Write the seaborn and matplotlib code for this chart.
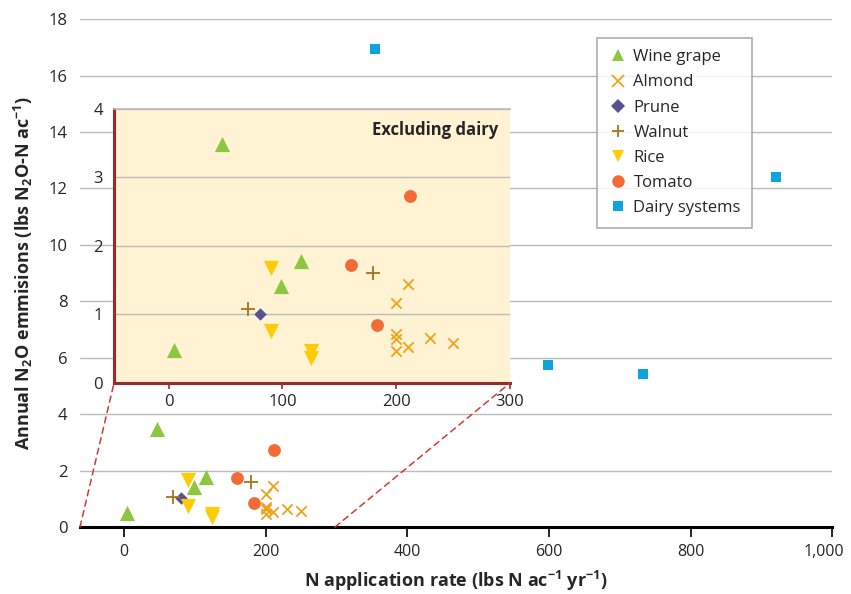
import pandas as pd
import matplotlib.pyplot as plt
import seaborn as sns
from matplotlib.patches import ConnectionPatch
from matplotlib.ticker import FuncFormatter
from matplotlib.transforms import ScaledTranslation

# Data
wine_x = [47, 5, 99, 116]
wine_y = [3.49, 0.48, 1.42, 1.78]
almond_x = [210, 200, 200, 200, 200, 210, 230, 250]
almond_y = [1.44, 1.17, 0.71, 0.64, 0.47, 0.53, 0.65, 0.58]
prune_x = [80]
prune_y = [1.01]
walnut_x = [70, 180]
walnut_y = [1.08, 1.60]
rice_x = [90, 90, 125, 125]
rice_y = [1.68, 0.76, 0.47, 0.36]
tomato_x = [160, 212, 183]
tomato_y = [1.72, 2.73, 0.84]
dairy_x = [355, 598, 733, 920]
dairy_y = [16.94, 5.74, 5.41, 12.4]

CROPS = ['Wine grape', 'Almond', 'Prune', 'Walnut', 'Rice', 'Tomato', 'Dairy systems']
COLORS = {
    'Wine grape': '#8DC63F',
    'Almond': '#EFA21A',
    'Prune': '#56528F',
    'Walnut': '#A8711E',
    'Rice': '#FFCB05',
    'Tomato': '#F26A36',
    'Dairy systems': '#0FA3DD',
}
MARKERS = {
    'Wine grape': '^',
    'Almond': 'x',
    'Prune': 'D',
    'Walnut': '+',
    'Rice': 'v',
    'Tomato': 'o',
    'Dairy systems': 's',
}
SIZES = {
    'Wine grape': 120,
    'Almond': 55,
    'Prune': 40,
    'Walnut': 110,
    'Rice': 120,
    'Tomato': 85,
    'Dairy systems': 55,
}

rows = []
for crop, xs, ys in zip(CROPS,
                        [wine_x, almond_x, prune_x, walnut_x, rice_x, tomato_x, dairy_x],
                        [wine_y, almond_y, prune_y, walnut_y, rice_y, tomato_y, dairy_y]):
    for x, y in zip(xs, ys):
        rows.append({'Crop': crop, 'N': x, 'N2O': y})
df = pd.DataFrame(rows)

sns.set_theme(style="white")
plt.rcParams['font.family'] = ['Open Sans', 'DejaVu Sans']
plt.rcParams['mathtext.default'] = 'regular'

fig = plt.figure(figsize=(8.51, 5.94), dpi=100)
ax = fig.add_axes([0.094, 0.1128, 0.884, 0.855])


def draw_points(a, data):
    for crop in CROPS:
        sub = data[data['Crop'] == crop]
        if sub.empty:
            continue
        lw = 1.3 if crop in ('Almond', 'Walnut') else 0
        sns.scatterplot(data=sub, x='N', y='N2O', ax=a, color=COLORS[crop],
                        marker=MARKERS[crop], s=SIZES[crop], linewidth=lw,
                        edgecolor=COLORS[crop] if lw == 0 else None,
                        label=crop, zorder=3, legend=False)


draw_points(ax, df)
ax.set_xlim(-62, 1000)
ax.set_ylim(0, 18)
ax.set_yticks(range(0, 19, 2))
ax.set_xticks(range(0, 1001, 200))
ax.xaxis.set_major_formatter(FuncFormatter(lambda v, p: f"{int(v):,}"))
ax.grid(axis='y', color='#BBBBBB', linewidth=1)
ax.set_axisbelow(True)
for s in ['top', 'right', 'left']:
    ax.spines[s].set_visible(False)
ax.spines['bottom'].set_color('black')
ax.spines['bottom'].set_linewidth(2.2)
ax.tick_params(axis='x', bottom=True, direction='out', length=7, width=1.2,
               color='black', labelsize=11.5, pad=5)
ax.tick_params(axis='y', left=False, labelsize=12, pad=3)
ax.set_xlabel('N application rate (lbs N ac$^{-1}$ yr$^{-1}$)', fontsize=13,
              fontweight='bold', labelpad=7)
ax.set_ylabel('Annual N$_2$O emmisions (lbs N$_2$O-N ac$^{-1}$)', fontsize=13,
              fontweight='bold', labelpad=10)
# nudge the last x label inward so it stays on the canvas
last = ax.get_xticklabels()[-1]
last.set_transform(last.get_transform() + ScaledTranslation(-6 / 72, 0, fig.dpi_scale_trans))

# legend
handles = [plt.Line2D([], [], linestyle='', marker=MARKERS[c], color=COLORS[c],
                      markersize=9 if c not in ('Prune', 'Dairy systems') else 7,
                      markeredgewidth=1.3 if c in ('Almond', 'Walnut') else 0)
           for c in CROPS]
leg = ax.legend(handles, CROPS, loc='upper right', bbox_to_anchor=(0.905, 0.98),
                frameon=True, fancybox=False, fontsize=12, handletextpad=0.3,
                labelspacing=0.55, borderpad=0.7, handlelength=1.2)
leg.get_frame().set_edgecolor('#9A9A9A')
leg.get_frame().set_linewidth(1.2)

# inset excluding dairy
ins = fig.add_axes([0.134, 0.3552, 0.4653, 0.4621])
ins.set_facecolor('#FFF3D3')
draw_points(ins, df[df['Crop'] != 'Dairy systems'])
ins.set_xlim(-48, 300)
ins.set_ylim(0, 4)
ins.set_xticks([0, 100, 200, 300])
ins.set_yticks([0, 1, 2, 3, 4])
ins.grid(axis='y', color='#BBBBBB', linewidth=1)
ins.set_axisbelow(True)
ins.spines['right'].set_visible(False)
ins.spines['top'].set_color('#BBBBBB')
ins.spines['top'].set_linewidth(1.2)
for s in ['left', 'bottom']:
    ins.spines[s].set_color('#9B2B2B')
    ins.spines[s].set_linewidth(2.2)
ins.tick_params(axis='x', bottom=True, direction='out', length=4, width=1.2,
                color='#9B2B2B', labelsize=12, pad=4)
ins.tick_params(axis='y', left=False, labelsize=12, pad=2)
ins.set_xlabel('')
ins.set_ylabel('')
ins.text(0.97, 0.955, 'Excluding dairy', transform=ins.transAxes, ha='right',
         va='top', fontsize=12, fontweight='bold')

for (xa, xb) in [((0, 0), (0, 0)), ((0.339, 0), (1, 0))]:
    con = ConnectionPatch(xyA=xa, coordsA=ax.transAxes, xyB=xb, coordsB=ins.transAxes,
                          color='#D23A35', linestyle=(0, (4, 3)), linewidth=1.1)
    fig.add_artist(con)

fig.savefig('out.png', dpi=100)
